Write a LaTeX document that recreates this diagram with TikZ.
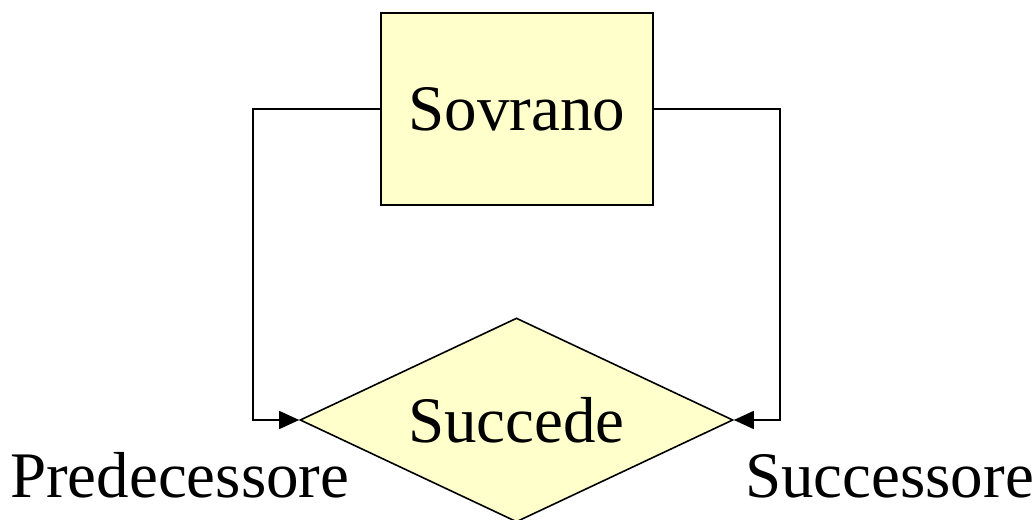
\documentclass[tikz,border=0pt]{standalone}
\usepackage{fontspec}
\setmainfont{Liberation Serif}
\usetikzlibrary{shapes.geometric,arrows.meta}
\definecolor{paleyellow}{RGB}{255,255,204}

\begin{document}
\begin{tikzpicture}[x=0.5pt,y=0.5pt,
  every node/.style={font=\fontsize{32.5}{38}\selectfont},
  entity/.style={draw,line width=0.8pt,fill=paleyellow,minimum width=136pt,minimum height=96pt,inner sep=0pt},
  relation/.style={draw,diamond,aspect=2.12,line width=0.8pt,fill=paleyellow,minimum width=216.5pt,minimum height=102pt,inner sep=0pt},
  link/.style={line width=0.8pt,-{Triangle[length=10pt,width=9pt]}}]
\useasboundingbox (0,0) rectangle (1035,520);

\coordinate (L) at (253,411);
\coordinate (R) at (780,411);

\node[entity]   (sovrano) at (517,411) {Sovrano};
\node[relation] (succede) at (516.5,100) {Succede};

\draw[link] (sovrano.west) -- (L) |- (succede.west);
\draw[link] (sovrano.east) -- (R) |- (succede.east);

\node[anchor=base west] (pred) at (3,22)  {Predecessore};
\node[anchor=base west] (succ) at (738,22) {Successore};
\end{tikzpicture}
\end{document}
